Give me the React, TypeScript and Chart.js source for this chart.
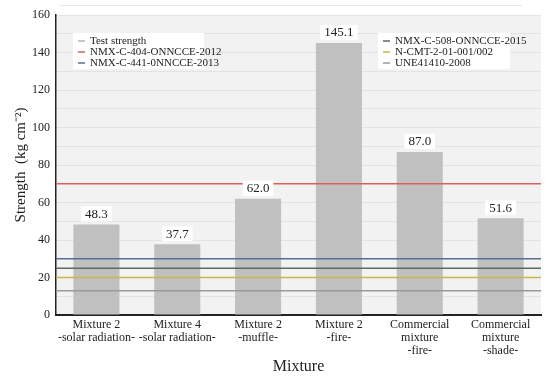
import React, { useEffect, useRef } from "react";
import { Chart, registerables } from "chart.js";

Chart.register(...registerables);

const categories: string[][] = [
  ["Mixture 2", "-solar radiation-"],
  ["Mixture 4", "-solar radiation-"],
  ["Mixture 2", "-muffle-"],
  ["Mixture 2", "-fire-"],
  ["Commercial", "mixture", "-fire-"],
  ["Commercial", "mixture", "-shade-"],
];
const testStrength = [48.3, 37.7, 62.0, 145.1, 87.0, 51.6];

const standardNames = [
  "NMX-C-404-ONNCCE-2012",
  "NMX-C-441-0NNCCE-2013",
  "NMX-C-508-ONNCCE-2015",
  "N-CMT-2-01-001/002",
  "UNE41410-2008",
];
const standardValues = [70, 30, 25, 20, 13];
const standardColors = ["#d9605c", "#5b6d96", "#5f6a5e", "#cdb54a", "#9a9a9a"];
const yTicks = [0, 20, 40, 60, 80, 100, 120, 140, 160];

const FONT = "'Liberation Serif', 'Times New Roman', serif";

export default function App() {
  const ref = useRef<HTMLCanvasElement | null>(null);
  useEffect(() => {
    document.body.style.margin = "0";
    const canvas = ref.current;
    if (!canvas) return;

    const bgPlugin = {
      id: "bgPlugin",
      beforeDraw(chart: any) {
        const { ctx, chartArea: a } = chart;
        ctx.save();
        ctx.fillStyle = "#ffffff";
        ctx.fillRect(0, 0, chart.width, chart.height);
        ctx.fillStyle = "#f2f2f2";
        ctx.fillRect(a.left, a.top, a.right - a.left, a.bottom - a.top);
        ctx.strokeStyle = "#e6e6e6";
        ctx.lineWidth = 1;
        ctx.beginPath();
        ctx.moveTo(60, 5.5);
        ctx.lineTo(522, 5.5);
        ctx.stroke();
        ctx.restore();
      },
    };

    const labelPlugin = {
      id: "labelPlugin",
      afterDatasetsDraw(chart: any) {
        const { ctx } = chart;
        const meta = chart.getDatasetMeta(0);
        ctx.save();
        ctx.font = `13px ${FONT}`;
        ctx.textAlign = "center";
        ctx.textBaseline = "middle";
        meta.data.forEach((bar: any, i: number) => {
          const txt = testStrength[i].toFixed(1);
          const w = ctx.measureText(txt).width + 8;
          const cy = bar.y - 10;
          ctx.fillStyle = "#ffffff";
          ctx.fillRect(bar.x - w / 2, cy - 8, w, 15);
          ctx.fillStyle = "#222";
          ctx.fillText(txt, bar.x, cy);
        });
        ctx.restore();
      },
      afterDraw(chart: any) {
        const { ctx } = chart;
        const items = [
          { label: "Test strength", color: "#b5b5b5" },
          ...standardNames.map((n, i) => ({ label: n, color: standardColors[i] })),
        ];
        const boxes = [
          { x: 73, y: 33, w: 131, h: 36, items: items.slice(0, 3) },
          { x: 378, y: 33, w: 132, h: 36, items: items.slice(3, 6) },
        ];
        ctx.save();
        ctx.font = `11px ${FONT}`;
        ctx.textBaseline = "middle";
        ctx.textAlign = "left";
        boxes.forEach((b) => {
          ctx.fillStyle = "#ffffff";
          ctx.fillRect(b.x, b.y, b.w, b.h);
          b.items.forEach((it, j) => {
            const y = b.y + 8 + j * 11;
            ctx.strokeStyle = it.color;
            ctx.lineWidth = 1.5;
            ctx.beginPath();
            ctx.moveTo(b.x + 5, y);
            ctx.lineTo(b.x + 12, y);
            ctx.stroke();
            ctx.fillStyle = "#222";
            ctx.fillText(it.label, b.x + 17, y);
          });
        });
        ctx.restore();
      },
    };

    const lineDatasets = standardNames.map((name, i) => ({
      type: "line" as const,
      label: name,
      data: [
        { x: 0, y: standardValues[i] },
        { x: 1, y: standardValues[i] },
      ],
      xAxisID: "x2",
      borderColor: standardColors[i],
      borderWidth: 1.5,
      pointRadius: 0,
      fill: false,
      order: 1,
    }));

    const chart = new Chart(canvas, {
      type: "bar",
      data: {
        labels: categories,
        datasets: [
          {
            type: "bar",
            label: "Test strength",
            data: testStrength,
            backgroundColor: "#c0c0c0",
            barPercentage: 0.57,
            categoryPercentage: 1,
            grouped: false,
            order: 2,
          } as any,
          ...(lineDatasets as any[]),
        ],
      },
      options: {
        animation: false,
        responsive: false,
        maintainAspectRatio: false,
        layout: { padding: { top: 15, right: 9, left: 12, bottom: 0 } },
        plugins: {
          legend: { display: false },
          tooltip: { enabled: false },
        },
        scales: {
          x: {
            type: "category",
            offset: true,
            grid: { display: false, drawTicks: false },
            border: { display: true, color: "#222", width: 2 },
            ticks: {
              color: "#222",
              font: { family: FONT, size: 12, lineHeight: 1.1 },
              padding: 3,
              maxRotation: 0,
              autoSkip: false,
            },
            title: {
              display: true,
              text: "Mixture",
              color: "#222",
              font: { family: FONT, size: 16 },
              padding: { top: 0, bottom: 2 },
            },
            afterFit(scale: any) {
              scale.height = 63;
            },
          },
          x2: {
            type: "linear",
            min: 0,
            max: 1,
            offset: false,
            display: false,
          },
          y: {
            min: 0,
            max: 160,
            ticks: {
              stepSize: 10,
              color: "#222",
              font: { family: FONT, size: 12 },
              padding: 6,
              callback: (v: any) => (yTicks.includes(Number(v)) ? String(v) : ""),
            },
            grid: { color: "#e3e3e3", drawTicks: false, lineWidth: 1 },
            border: { display: true, color: "#222", width: 1.5 },
            title: {
              display: true,
              text: "Strength  (kg cm\u207B\u00B2)",
              color: "#222",
              font: { family: FONT, size: 15 },
              padding: { top: 0, bottom: 2 },
            },
            afterFit(scale: any) {
              scale.width = 44;
            },
          },
        },
      } as any,
      plugins: [bgPlugin, labelPlugin],
    });
    return () => chart.destroy();
  }, []);

  return (
    <div style={{ width: 550, height: 378 }}>
      <canvas ref={ref} width={550} height={378} style={{ display: "block" }} />
    </div>
  );
}
